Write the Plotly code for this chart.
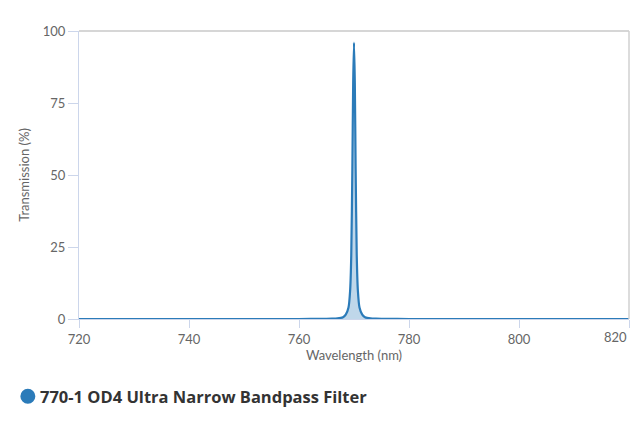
import plotly.graph_objects as go

# spectrum (nm, %T)
wavelength = [720, 760, 765, 766, 767, 768, 768.5, 769, 769.3, 769.5, 769.7, 769.85,
              770.0, 770.15, 770.3, 770.5, 770.7, 771.0, 771.5, 772, 773, 774, 775, 780, 820]
transmission = [0, 0, 0.05, 0.1, 0.2, 0.6, 1.5, 4, 10, 22, 52, 82,
                96, 82, 52, 22, 10, 4, 1.5, 0.6, 0.2, 0.1, 0.05, 0, 0]

series_name = "770-1 OD4 Ultra Narrow Bandpass Filter"
x_ticks = [720, 740, 760, 780, 800, 820]
y_ticks = [0, 25, 50, 75, 100]

blue = "#2b7bb9"
axis_col = "#ccd6eb"
label_font = dict(family="Lato", size=13, color="#666666")

fig = go.Figure()

fig.add_trace(go.Scatter(x=wavelength, y=transmission, mode="lines",
                         line=dict(color=blue, width=2.2, shape="spline", smoothing=0.6),
                         fill="tozeroy", fillcolor="rgba(43,123,185,0.3)",
                         name=series_name, showlegend=False, hoverinfo="x+y"))

# plot border top / right
fig.add_shape(type="line", xref="paper", yref="paper", x0=0, x1=1, y0=1, y1=1,
              line=dict(color="#c8c8c8", width=1.5))
fig.add_shape(type="line", xref="paper", yref="paper", x0=1, x1=1, y0=0, y1=1,
              line=dict(color="#d0d0d0", width=1.5))

# legend drawn by hand: round marker + bold name
fig.add_shape(type="circle", xref="paper", yref="paper",
              xsizemode="pixel", ysizemode="pixel",
              xanchor=-0.093, yanchor=-0.268, x0=-7.5, x1=7.5, y0=-7.5, y1=7.5,
              fillcolor=blue, line=dict(color=blue, width=0))
fig.add_annotation(xref="paper", yref="paper", x=-0.074, y=-0.268,
                   xanchor="left", yanchor="middle", showarrow=False,
                   text="<b>%s</b>" % series_name,
                   font=dict(family="Open Sans", size=16.5, color="#333333"))

# last x label is pulled inside the edge (right-aligned to its tick)
x_labels = [str(v) for v in x_ticks[:-1]] + [""]
fig.add_annotation(xref="x", yref="paper", x=x_ticks[-1], y=0,
                   xanchor="right", yanchor="top", yshift=-8, showarrow=False,
                   text=str(x_ticks[-1]), font=label_font)

fig.update_xaxes(range=[720, 820], tickvals=x_ticks, ticktext=x_labels,
                 showgrid=False, zeroline=False,
                 showline=True, linecolor=axis_col, linewidth=1,
                 ticks="outside", ticklen=8, tickcolor=axis_col,
                 tickfont=label_font, automargin=False,
                 title=dict(text="Wavelength (nm)", font=label_font, standoff=5))
fig.update_yaxes(range=[0, 100], tickvals=y_ticks, showgrid=False, zeroline=False,
                 showline=True, linecolor=axis_col, linewidth=1,
                 ticks="outside", ticklen=10, tickcolor=axis_col,
                 tickfont=label_font, automargin=False,
                 title=dict(text="Transmission (%)", font=label_font, standoff=10))

# page body has an 8px margin, so the figure is 8px smaller and shifted
fig.update_layout(
    width=632, height=419,
    margin=dict(l=71, r=11, t=23, b=108),
    plot_bgcolor="white", paper_bgcolor="white",
    showlegend=False,
)

fig.write_html("out.html")
